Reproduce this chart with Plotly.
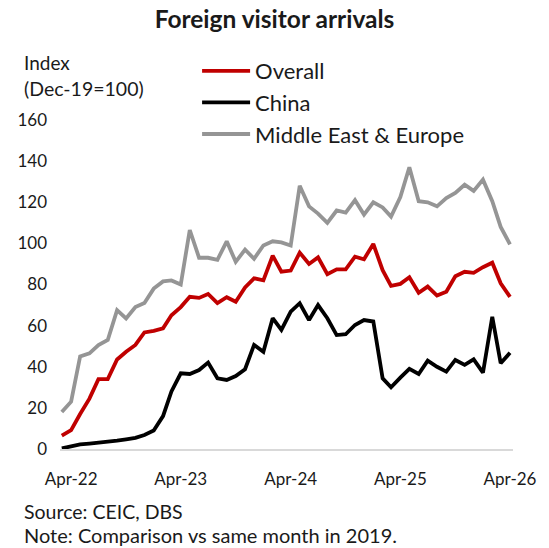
import pandas as pd
import plotly.graph_objects as go

# Monthly index (Dec-19 = 100), Mar-22 to Apr-26
months = pd.date_range("2022-03-01", "2026-04-01", freq="MS")

overall = [6.5, 9.2, 17, 24.5, 34, 34, 43.5, 47.3, 50.6, 56.7,
           57.5, 58.7, 65, 69, 74, 73.5, 75.4, 71, 73.8, 71.6,
           78.6, 83, 82, 94, 86.2, 86.8, 95.5, 90, 93.2, 85,
           87.4, 87.4, 93.5, 92.3, 99.7, 87, 79.3, 80.3, 83.5, 76,
           79, 74.6, 76.5, 84, 86.2, 85.7, 88.4, 90.6, 80.6, 74]

china = [0.3, 1.2, 2.2, 2.6, 3.0, 3.6, 4.1, 4.7, 5.4, 6.8,
         9.0, 16, 28, 36.8, 36.5, 38.4, 42, 34.4, 33.6, 35.5,
         38.8, 50.6, 47.3, 63.6, 57.9, 66.8, 70.9, 62.7, 70, 63.6,
         55.4, 55.8, 60.3, 62.7, 62, 34.4, 30, 34.7, 39, 36.5,
         43, 40, 37.6, 43.3, 40.9, 43.6, 37.1, 64.3, 41.7, 46.8]

me_europe = [18, 23, 45, 46.5, 50.5, 53, 67.5, 63.5, 69, 71,
             78, 81.5, 82, 80, 106.5, 93, 93, 92, 101, 91,
             97, 92.5, 99, 101, 100.5, 99, 128, 118, 114.5, 110,
             116, 115, 121, 114, 120, 117.5, 113, 122.5, 137, 120.5,
             120, 118, 122, 124.5, 128.5, 125.5, 131, 120.5, 108, 99.5]

series_names = ["Overall", "China", "Middle East & Europe"]
series_values = [overall, china, me_europe]
series_colors = ["#C00000", "#000000", "#959595"]

tick_dates = pd.date_range("2022-04-01", "2026-04-01", freq="12MS")
y_ticks = [0, 20, 40, 60, 80, 100, 120, 140, 160]

W, H = 549, 548
L, R, T, B = 60, 33, 120, 99
PW, PH = W - L - R, H - T - B
FONT = "Lato"
TXT = "#1a1a1a"


def px(x):
    return (x - L) / PW


def py(y):
    return (H - B - y) / PH


fig = go.Figure()
for i, (name, vals, col) in enumerate(zip(series_names, series_values, series_colors)):
    fig.add_trace(go.Scatter(
        x=months, y=vals, name=name, mode="lines",
        line=dict(color=col, width=3.8),
        legendgroup=f"g{i}",
    ))

fig.update_layout(
    width=W, height=H,
    margin=dict(l=L, r=R, t=T, b=B),
    paper_bgcolor="white", plot_bgcolor="white",
    font=dict(family=FONT, size=16, color=TXT),
    title=dict(text="<b>Foreign visitor arrivals</b>", x=0.5, xanchor="center",
               y=1 - 19 / H, yanchor="middle", font=dict(size=24.5, color=TXT)),
    showlegend=True,
    legend=dict(x=px(198), y=py(50), xanchor="left", yanchor="top",
                font=dict(size=22, color=TXT), bgcolor="rgba(0,0,0,0)",
                tracegroupgap=0, itemwidth=48),
    xaxis=dict(
        range=["2022-02-23", "2026-04-11"],
        tickvals=tick_dates, tickformat="%b-%y",
        showgrid=False, zeroline=False,
        showline=True, linecolor="#d9d9d9", linewidth=2,
        ticks="", ticklabelstandoff=14,
        tickfont=dict(size=17, color=TXT),
    ),
    yaxis=dict(
        range=[0, 160], tickvals=y_ticks,
        showgrid=False, zeroline=False, showline=False,
        ticks="", ticklabelstandoff=12,
        tickfont=dict(size=17, color=TXT),
    ),
)

notes = [
    ("Index", 22, 62, 19),
    ("(Dec-19=100)", 22, 88, 19.5),
    ("Source: CEIC, DBS", 22, 511, 19.5),
    ("Note: Comparison vs same month in 2019.", 22, 535, 20),
]
for text, x, y, size in notes:
    fig.add_annotation(text=text, xref="paper", yref="paper", x=px(x), y=py(y),
                       xanchor="left", yanchor="middle", showarrow=False,
                       font=dict(size=size, color=TXT))

fig.write_html("out.html")
